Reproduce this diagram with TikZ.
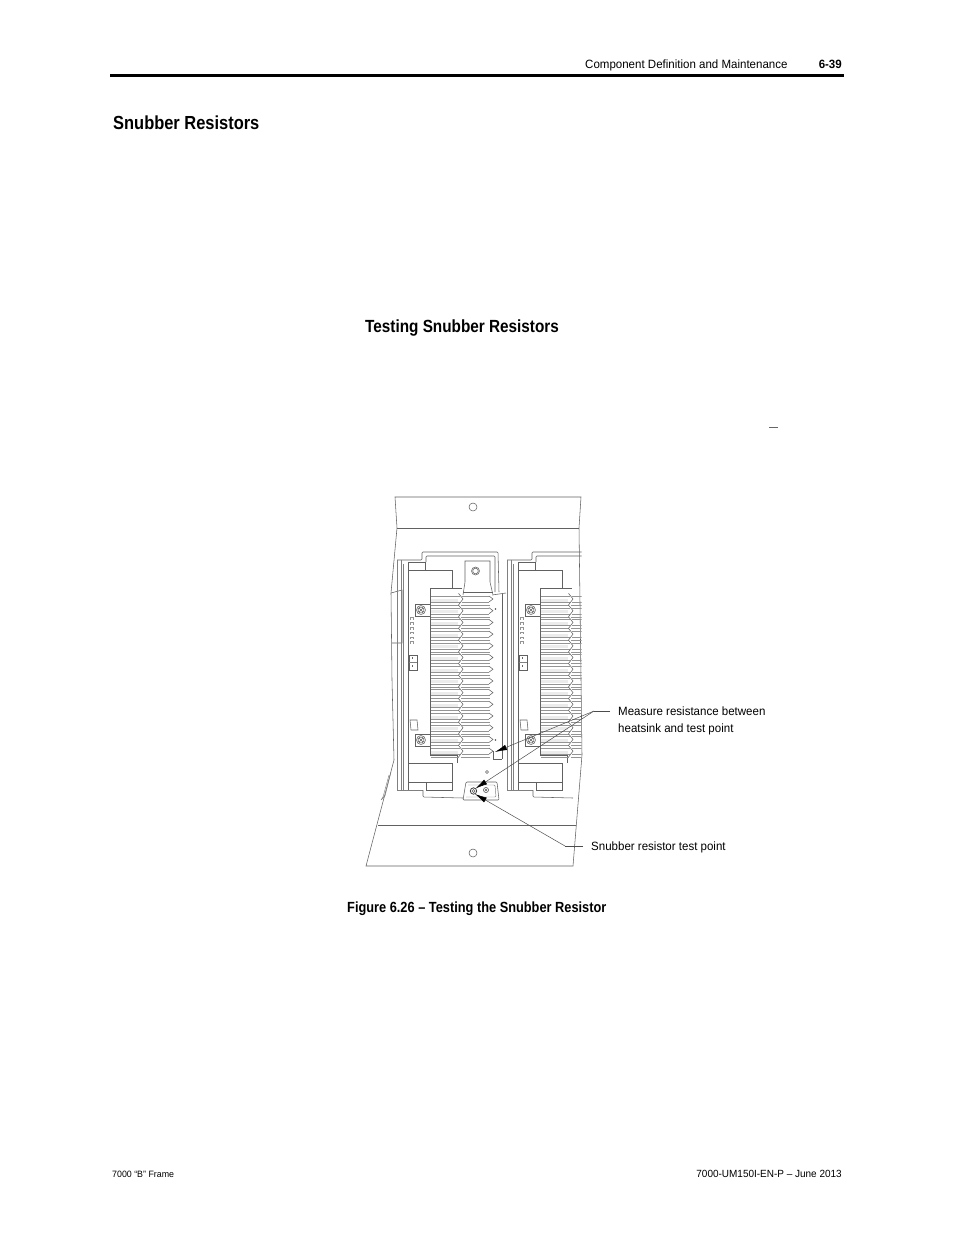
\documentclass[tikz,border=0pt]{standalone}
\usepackage{fontspec}
\setmainfont[FakeStretch=0.96]{Liberation Sans}
\newfontfamily\narrowfont[FakeStretch=0.87]{Liberation Sans}
\usetikzlibrary{arrows.meta}
\usetikzlibrary{positioning}

\tikzset{
  lineart/.style={draw=black!62,line width=0.55pt},
  railline/.style={draw=black!50,line width=0.45pt},
  finline/.style={draw=black!42,line width=0.4pt},
  leader/.style={draw=black!70,line width=0.5pt},
  wedge/.style={-{Latex[length=12pt,width=5.5pt,black]},leader},
  caption/.style={inner sep=0pt,font=\fontsize{12}{14}\selectfont},
  heading/.style={inner sep=0pt,font=\narrowfont\fontsize{18.9}{20}\selectfont\bfseries},
  subheading/.style={inner sep=0pt,font=\narrowfont\fontsize{17.6}{18}\selectfont\bfseries},
  footer/.style={inner sep=0pt,font=\fontsize{10.4}{12}\selectfont},
}

% one resistor module, drawn at the position of the left one
\newcommand{\snubbermodule}[1]{
  \begin{scope}[xshift=#1]
    % bracket above and below
    \draw[lineart,rounded corners=1pt] (397,560) -- (422,560) -- (422,552) -- (498,552) -- (499,592);
    \draw[lineart,rounded corners=1pt] (426,562) -- (426,556) -- (495,556) -- (495,592);
    \draw[railline] (397,560) -- (397,790) -- (423,790);
    \draw[railline] (401,560) -- (401,790);
    \draw[railline] (403.5,564) -- (403.5,790);
    \draw[lineart] (408,562) -- (408,790);
    \draw[lineart] (408,562) -- (425,562) -- (425,570);
    \draw[lineart,rounded corners=1pt] (423,790) -- (423,797) -- (463,798);
    \draw[lineart] (426,782) -- (426,790) -- (452,790) -- (452,782);
    % end blocks
    \draw[lineart] (408,570) -- (452,570) -- (452,588) -- (430,588) -- (430,755) -- (457,755) -- (457,763);
    \draw[lineart] (408,763) rectangle (452,782);
    \draw[lineart] (452,588) -- (462,588);
    % fins
    \foreach \i in {0,...,13} {
      \pgfmathsetmacro{\fy}{596+11.7*\i}
      \fill[black!8] (431,\fy+2.5) rectangle (458,\fy+5.5);
      \draw[finline] (431,\fy) -- (460,\fy);
      \draw[finline] (431,\fy+6) -- (460,\fy+6);
      \draw[finline] (431,\fy+9) -- (458.5,\fy+9);
      \draw[lineart] (458.5,\fy-2.7) -- (463,\fy+3) -- (458.5,\fy+9);
      \draw[finline] (462,\fy) -- (489,\fy);
      \draw[finline] (462,\fy+6) -- (489,\fy+6);
      \draw[lineart] (489,\fy) -- (493,\fy+3) -- (489,\fy+6);
      \draw[finline] (461,\fy+9) -- (490,\fy+9);
    }
    % screws
    \foreach \sy in {610,740} {
      \fill[white] (415,\sy-6) rectangle (430,\sy+6);
      \draw[lineart] (415,\sy-6) rectangle (430,\sy+6);
      \draw[lineart] (421,\sy) circle (4.5);
      \draw[lineart] (421,\sy) circle (3);
      \draw[lineart] (419,\sy-2) -- (423,\sy+2) (419,\sy+2) -- (423,\sy-2);
    }
    % small parts
    \foreach \j in {0,...,5} {
      \draw[finline] (410.5,620+4.8*\j) -- (410.5,617.5+4.8*\j) -- (413.5,617.5+4.8*\j) -- (413.5,620+4.8*\j);
    }
    \draw[lineart] (409,655) rectangle (417,670);
    \draw[railline] (409,662) -- (417,662);
    \fill[black!60] (411.5,657) rectangle (413,659);
    \fill[black!60] (411.5,665) rectangle (413,667);
    \draw[lineart] (410,720) -- (417,720) -- (418,730) -- (411,730) -- cycle;
    % rail at the other side
    \draw[lineart] (492,595) -- (506,593);
    \draw[lineart] (502,594) -- (502,759);
  \end{scope}
}

\begin{document}
\begin{tikzpicture}[x=1pt,y=-1pt]
  \useasboundingbox (0,0) rectangle (954,1235);

  % page header
  \draw[line width=3pt] (110,75) -- (844,75);
  \node[caption,anchor=base west] (header) at (585,68) {Component Definition and Maintenance};
  \node[caption,anchor=base east,font=\fontsize{12}{14}\selectfont\bfseries] (pagenr) at (842,68) {6-39};

  % headings
  \node[heading,anchor=base west] (snubberhead) at (113,129.5) {Snubber Resistors};
  \node[subheading,anchor=base west] (testhead) at (365,332.5) {Testing Snubber Resistors};
  \coordinate (dashl) at (769,427.5);
  \coordinate (dashr) at (778,427.5);
  \draw[black!60,line width=0.6pt] (dashl) -- (dashr);

  % frame
  \draw[lineart] (395,497) -- (581,497) -- (579,528) -- (582,755) -- (573,866) -- (366,866) -- (394,760) -- (392,680) -- (391,593) -- (397,528) -- cycle;
  \draw[lineart] (397,528) -- (579,528);
  \draw[lineart] (378,825) -- (576,825);
  \draw[lineart] (473,507) circle (4);
  \draw[lineart] (473,853) circle (4);
  \draw[lineart] (391,593) -- (402,590) -- (402,643) -- (392,643);
  \draw[railline] (389,775) -- (383,797) -- (381,800) -- (385,796) -- (391,772);

  % modules
  \begin{scope}
    \clip (360,490) rectangle (581.5,870);
    \snubbermodule{0pt}
    \snubbermodule{110pt}
  \end{scope}

  % tab with the upper hole
  \fill[white] (465,561) -- (490,561) -- (490,582) -- (493,595) -- (463,595) -- (465,582) -- cycle;
  \draw[lineart] (463,595) -- (465,582) -- (465,561) -- (490,561) -- (490,582) -- (493,595);
  \draw[lineart] (463,592) -- (493,592);
  \draw[lineart] (475.5,571) circle (4);
  \draw[lineart] (475.5,571) circle (2.8);
  \fill[black!70] (495.5,609) circle (0.8);
  \fill[black!70] (495.5,740) circle (0.8);

  % lower plate with the test point
  \fill[white] (466,782) -- (496,782) -- (499,785) -- (499,800) -- (463,800) -- cycle;
  \draw[lineart,rounded corners=1pt] (466,782) -- (497,782) -- (499,800) -- (463,800) -- cycle;
  \draw[railline,rounded corners=1pt] (468,785) -- (495,785) -- (496,797) -- (466,797);
  \draw[lineart] (487,772) circle (1.5);
  \draw[lineart] (486,790) circle (2.6);
  \draw[lineart] (484.5,788.5) -- (487.5,791.5) (484.5,791.5) -- (487.5,788.5);
  \draw[black!75,line width=0.8pt] (473.5,791) circle (3.2);
  \draw[lineart] (473.5,791) circle (1.6);
  \fill[white] (493,751) rectangle (502,759);
  \draw[lineart] (493,751) -- (493,759) -- (502,759);

  % labels and their connectors
  \node[caption,anchor=base west] (measure) at (618,715) {Measure resistance between};
  \node[caption,anchor=base west] (heatsink) at (618,732) {heatsink and test point};
  \node[caption,anchor=base west] (testpoint) at (591,850) {Snubber resistor test point};

  \coordinate (measureelbow) at (594,711);
  \coordinate (testelbow) at (565,846);
  \coordinate (heatsinktip) at (495,752);
  \coordinate (pointtip) at (475.5,788.5);
  \coordinate (testtip) at (475,794);

  \draw[leader] (measure.west |- measureelbow) ++(-8,0) -- (measureelbow);
  \draw[wedge] (measureelbow) -- (heatsinktip);
  \draw[wedge] (measureelbow) -- (pointtip);
  \draw[leader] (testpoint.west |- testelbow) ++(-8,0) -- (testelbow);
  \draw[wedge] (testelbow) -- (testtip);

  % caption and footer
  \node[caption,anchor=base west,font=\narrowfont\fontsize{14.7}{16}\selectfont\bfseries] (figcaption) at (347,912.5) {Figure 6.26 – Testing the Snubber Resistor};
  \node[footer,anchor=base west,font=\fontsize{9.2}{12}\selectfont] (footleft) at (112,1177) {7000 “B” Frame};
  \node[footer,anchor=base east] (footright) at (842,1177) {7000-UM150I-EN-P – June 2013};
\end{tikzpicture}
\end{document}
